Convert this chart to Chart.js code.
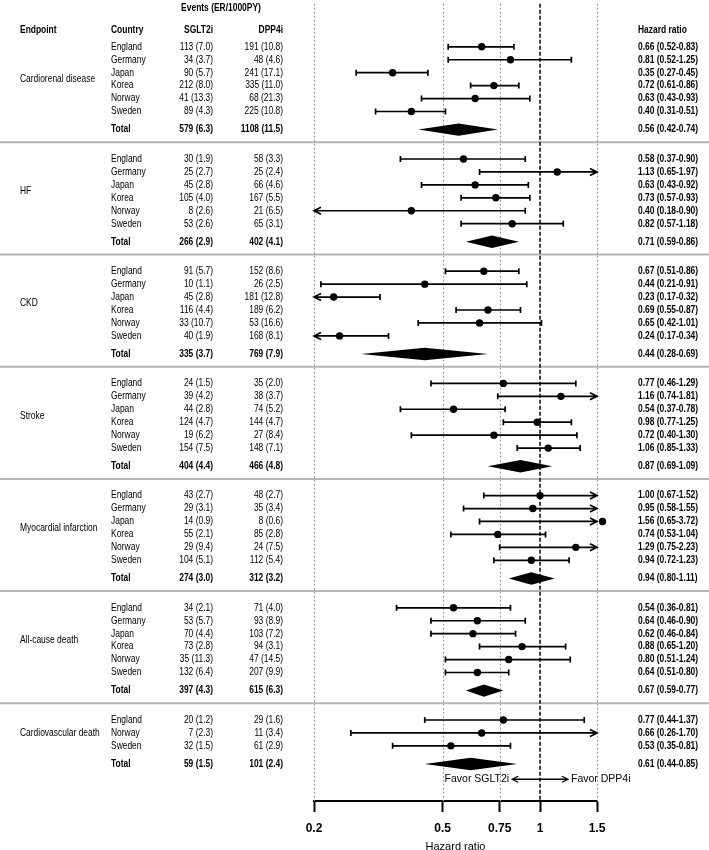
<!DOCTYPE html>
<html>
<head>
<meta charset="utf-8">
<script src="https://cdn.jsdelivr.net/npm/chart.js@4.4.0/dist/chart.umd.min.js"></script>
<style>
  html, body { margin: 0; padding: 0; background: #fff; }
  #wrap { width: 709px; height: 850px; }
</style>
</head>
<body>
<div id="wrap"><canvas id="forest" width="709" height="850"></canvas></div>
<script>
// Data (last entry of each list = Total)
const endpoints = ['Cardiorenal disease', 'HF', 'CKD', 'Stroke', 'Myocardial infarction', 'All-cause death', 'Cardiovascular death'];
const countries = [
  ['England', 'Germany', 'Japan', 'Korea', 'Norway', 'Sweden'],
  ['England', 'Germany', 'Japan', 'Korea', 'Norway', 'Sweden'],
  ['England', 'Germany', 'Japan', 'Korea', 'Norway', 'Sweden'],
  ['England', 'Germany', 'Japan', 'Korea', 'Norway', 'Sweden'],
  ['England', 'Germany', 'Japan', 'Korea', 'Norway', 'Sweden'],
  ['England', 'Germany', 'Japan', 'Korea', 'Norway', 'Sweden'],
  ['England', 'Norway', 'Sweden']
];
const sgltEvents = [
  [113, 34, 90, 212, 41, 89, 579],
  [30, 25, 45, 105, 8, 53, 266],
  [91, 10, 45, 116, 33, 40, 335],
  [24, 39, 44, 124, 19, 154, 404],
  [43, 29, 14, 55, 29, 104, 274],
  [34, 53, 70, 73, 35, 132, 397],
  [20, 7, 32, 59]
];
const sgltRates = [
  [7.0, 3.7, 5.7, 8.0, 13.3, 4.3, 6.3],
  [1.9, 2.7, 2.8, 4.0, 2.6, 2.6, 2.9],
  [5.7, 1.1, 2.8, 4.4, 10.7, 1.9, 3.7],
  [1.5, 4.2, 2.8, 4.7, 6.2, 7.5, 4.4],
  [2.7, 3.1, 0.9, 2.1, 9.4, 5.1, 3.0],
  [2.1, 5.7, 4.4, 2.8, 11.3, 6.4, 4.3],
  [1.2, 2.3, 1.5, 1.5]
];
const dppEvents = [
  [191, 48, 241, 335, 68, 225, 1108],
  [58, 25, 66, 167, 21, 65, 402],
  [152, 26, 181, 189, 53, 168, 769],
  [35, 38, 74, 144, 27, 148, 466],
  [48, 35, 8, 85, 24, 112, 312],
  [71, 93, 103, 94, 47, 207, 615],
  [29, 11, 61, 101]
];
const dppRates = [
  [10.8, 4.6, 17.1, 11.0, 21.3, 10.8, 11.5],
  [3.3, 2.4, 4.6, 5.5, 6.5, 3.1, 4.1],
  [8.6, 2.5, 12.8, 6.2, 16.6, 8.1, 7.9],
  [2.0, 3.7, 5.2, 4.7, 8.4, 7.1, 4.8],
  [2.7, 3.4, 0.6, 2.8, 7.5, 5.4, 3.2],
  [4.0, 8.9, 7.2, 3.1, 14.5, 9.9, 6.3],
  [1.6, 3.4, 2.9, 2.4]
];
const hr = [
  [0.66, 0.81, 0.35, 0.72, 0.63, 0.40, 0.56],
  [0.58, 1.13, 0.63, 0.73, 0.40, 0.82, 0.71],
  [0.67, 0.44, 0.23, 0.69, 0.65, 0.24, 0.44],
  [0.77, 1.16, 0.54, 0.98, 0.72, 1.06, 0.87],
  [1.00, 0.95, 1.56, 0.74, 1.29, 0.94, 0.94],
  [0.54, 0.64, 0.62, 0.88, 0.80, 0.64, 0.67],
  [0.77, 0.66, 0.53, 0.61]
];
const hrLow = [
  [0.52, 0.52, 0.27, 0.61, 0.43, 0.31, 0.42],
  [0.37, 0.65, 0.43, 0.57, 0.18, 0.57, 0.59],
  [0.51, 0.21, 0.17, 0.55, 0.42, 0.17, 0.28],
  [0.46, 0.74, 0.37, 0.77, 0.40, 0.85, 0.69],
  [0.67, 0.58, 0.65, 0.53, 0.75, 0.72, 0.80],
  [0.36, 0.46, 0.46, 0.65, 0.51, 0.51, 0.59],
  [0.44, 0.26, 0.35, 0.44]
];
const hrHigh = [
  [0.83, 1.25, 0.45, 0.86, 0.93, 0.51, 0.74],
  [0.90, 1.97, 0.92, 0.93, 0.90, 1.18, 0.86],
  [0.86, 0.91, 0.32, 0.87, 1.01, 0.34, 0.69],
  [1.29, 1.81, 0.78, 1.25, 1.30, 1.33, 1.09],
  [1.52, 1.55, 3.72, 1.04, 2.23, 1.23, 1.11],
  [0.81, 0.90, 0.84, 1.20, 1.24, 0.80, 0.77],
  [1.37, 1.70, 0.81, 0.85]
];
const tickValues = [0.2, 0.5, 0.75, 1, 1.5];
const tickLabels = ['0.2', '0.5', '0.75', '1', '1.5'];
const refLines = [0.2, 0.5, 0.75, 1.5];
const nullLine = 1;
const favorArrow = [0.82, 1.22];
const favorLabels = ['Favor SGLT2i', 'Favor DPP4i'];

// Row layout (in row units, one row = one country line)
const SECTION_STEP = 8.67;
const TOTAL_GAP = 0.4;
const SEP_GAP = 1.38;
const Y_MIN = -3.33, Y_MAX = 58.28;
const rowOf = (s, i) => s * SECTION_STEP + i;
const totalRowOf = s => s * SECTION_STEP + countries[s].length - 1 + TOTAL_GAP + 1;

const points = [];
countries.forEach((list, s) => {
  list.forEach((c, i) => points.push({ x: hr[s][i], y: rowOf(s, i) }));
});

const FONT = '"Liberation Sans", Arial, sans-serif';
function txt(ctx, s, px, py, align, bold, size, squeeze) {
  ctx.save();
  ctx.translate(px, py);
  ctx.scale(squeeze, 1);
  ctx.font = (bold ? 'bold ' : '') + size + 'px ' + FONT;
  ctx.textAlign = align;
  ctx.textBaseline = 'middle';
  ctx.fillStyle = '#000';
  ctx.fillText(s, 0, 0);
  ctx.restore();
}
const fmtEv = (e, r) => e + ' (' + r.toFixed(1) + ')';
const fmtHr = (s, i) => hr[s][i].toFixed(2) + ' (' + hrLow[s][i].toFixed(2) + '-' + hrHigh[s][i].toFixed(2) + ')';

function drawCI(ctx, x, yp, lo, hi) {
  const x1 = x.getPixelForValue(Math.max(lo, x.min));
  const x2 = x.getPixelForValue(Math.min(hi, x.max));
  ctx.beginPath();
  ctx.moveTo(x1, yp); ctx.lineTo(x2, yp);
  if (lo < x.min) { ctx.moveTo(x1 + 7, yp - 3.5); ctx.lineTo(x1, yp); ctx.lineTo(x1 + 7, yp + 3.5); }
  else { ctx.moveTo(x1, yp - 3); ctx.lineTo(x1, yp + 3); }
  if (hi > x.max) { ctx.moveTo(x2 - 7, yp - 3.5); ctx.lineTo(x2, yp); ctx.lineTo(x2 - 7, yp + 3.5); }
  else { ctx.moveTo(x2, yp - 3); ctx.lineTo(x2, yp + 3); }
  ctx.stroke();
}

const forestPlugin = {
  id: 'forest',
  beforeDatasetsDraw(chart) {
    const { ctx, chartArea, scales: { x, y } } = chart;
    ctx.save();
    // section separators
    ctx.strokeStyle = '#b4b4b4';
    ctx.lineWidth = 2;
    for (let s = 0; s < endpoints.length - 1; s++) {
      const yp = y.getPixelForValue(rowOf(s, countries[s].length) + SEP_GAP);
      ctx.beginPath(); ctx.moveTo(0, yp); ctx.lineTo(chart.width, yp); ctx.stroke();
    }
    // reference lines
    ctx.strokeStyle = '#9a9a9a';
    ctx.lineWidth = 1;
    ctx.setLineDash([2, 2]);
    refLines.forEach(v => {
      const xp = Math.round(x.getPixelForValue(v)) + 0.5;
      ctx.beginPath(); ctx.moveTo(xp, chartArea.top); ctx.lineTo(xp, chartArea.bottom); ctx.stroke();
    });
    ctx.strokeStyle = '#111';
    ctx.lineWidth = 1.6;
    ctx.setLineDash([4, 2]);
    const xn = x.getPixelForValue(nullLine);
    ctx.beginPath(); ctx.moveTo(xn, chartArea.top); ctx.lineTo(xn, chartArea.bottom); ctx.stroke();
    ctx.setLineDash([]);
    // confidence intervals
    ctx.strokeStyle = '#000';
    ctx.lineWidth = 1.7;
    countries.forEach((list, s) => {
      list.forEach((c, i) => drawCI(ctx, x, y.getPixelForValue(rowOf(s, i)), hrLow[s][i], hrHigh[s][i]));
    });
    // pooled diamonds
    ctx.fillStyle = '#000';
    const half = y.getPixelForValue(0.48) - y.getPixelForValue(0);
    endpoints.forEach((e, s) => {
      const n = countries[s].length;
      const yp = y.getPixelForValue(totalRowOf(s));
      const xl = x.getPixelForValue(hrLow[s][n]);
      const xc = x.getPixelForValue(hr[s][n]);
      const xr = x.getPixelForValue(hrHigh[s][n]);
      ctx.beginPath();
      ctx.moveTo(xl, yp); ctx.lineTo(xc, yp - half); ctx.lineTo(xr, yp); ctx.lineTo(xc, yp + half);
      ctx.closePath(); ctx.fill();
    });
    ctx.restore();
  },
  afterDatasetsDraw(chart) {
    const { ctx, scales: { x, y } } = chart;
    // estimates falling outside the axis range are skipped by Chart.js
    ctx.save();
    ctx.fillStyle = '#000';
    points.forEach(p => {
      if (p.x > x.max || p.x < x.min) {
        ctx.beginPath();
        ctx.arc(x.getPixelForValue(p.x), y.getPixelForValue(p.y), 3.7, 0, Math.PI * 2);
        ctx.fill();
      }
    });
    // favour arrow
    const fy = y.getPixelForValue(56.6);
    const a1 = x.getPixelForValue(favorArrow[0]);
    const a2 = x.getPixelForValue(favorArrow[1]);
    ctx.strokeStyle = '#000';
    ctx.lineWidth = 1.3;
    ctx.beginPath();
    ctx.moveTo(a1, fy); ctx.lineTo(a2, fy);
    ctx.moveTo(a1 + 6, fy - 3); ctx.lineTo(a1, fy); ctx.lineTo(a1 + 6, fy + 3);
    ctx.moveTo(a2 - 6, fy - 3); ctx.lineTo(a2, fy); ctx.lineTo(a2 - 6, fy + 3);
    ctx.stroke();
    ctx.restore();
    txt(ctx, favorLabels[0], a1 - 3, fy, 'right', false, 10.5, 1);
    txt(ctx, favorLabels[1], a2 + 3, fy, 'left', false, 10.5, 1);
  },
  afterDraw(chart) {
    const { ctx, scales: { y } } = chart;
    const SQ = 0.82, FS = 10.3;
    const hy = y.getPixelForValue(-1.25);
    txt(ctx, 'Events (ER/1000PY)', 221, y.getPixelForValue(-2.95), 'center', true, FS, SQ);
    txt(ctx, 'Endpoint', 20, hy, 'left', true, FS, SQ);
    txt(ctx, 'Country', 111, hy, 'left', true, FS, SQ);
    txt(ctx, 'SGLT2i', 213, hy, 'right', true, FS, SQ);
    txt(ctx, 'DPP4i', 283, hy, 'right', true, FS, SQ);
    txt(ctx, 'Hazard ratio', 638, hy, 'left', true, FS, SQ);
    endpoints.forEach((e, s) => {
      const n = countries[s].length;
      txt(ctx, e, 20, y.getPixelForValue(rowOf(s, (n - 1) / 2)), 'left', false, FS, SQ);
      countries[s].forEach((c, i) => {
        const yp = y.getPixelForValue(rowOf(s, i));
        txt(ctx, c, 111, yp, 'left', false, FS, SQ);
        txt(ctx, fmtEv(sgltEvents[s][i], sgltRates[s][i]), 213, yp, 'right', false, FS, SQ);
        txt(ctx, fmtEv(dppEvents[s][i], dppRates[s][i]), 283, yp, 'right', false, FS, SQ);
        txt(ctx, fmtHr(s, i), 638, yp, 'left', true, FS, SQ);
      });
      const ty = y.getPixelForValue(totalRowOf(s));
      txt(ctx, 'Total', 111, ty, 'left', true, FS, SQ);
      txt(ctx, fmtEv(sgltEvents[s][n], sgltRates[s][n]), 213, ty, 'right', true, FS, SQ);
      txt(ctx, fmtEv(dppEvents[s][n], dppRates[s][n]), 283, ty, 'right', true, FS, SQ);
      txt(ctx, fmtHr(s, n), 638, ty, 'left', true, FS, SQ);
    });
  }
};

const ctx = document.getElementById('forest').getContext('2d');
new Chart(ctx, {
  type: 'scatter',
  data: {
    datasets: [{
      data: points,
      pointRadius: 3.7,
      pointHoverRadius: 3.7,
      borderWidth: 0,
      backgroundColor: '#000',
      borderColor: '#000',
      clip: false
    }]
  },
  plugins: [forestPlugin],
  options: {
    responsive: false,
    animation: false,
    devicePixelRatio: 1,
    events: [],
    layout: { padding: { left: 314, right: 112, top: 0, bottom: 0 } },
    plugins: { legend: { display: false }, tooltip: { enabled: false } },
    scales: {
      x: {
        type: 'logarithmic',
        position: 'bottom',
        min: 0.2,
        max: 1.5,
        afterBuildTicks: s => { s.ticks = tickValues.map(v => ({ value: v })); },
        afterFit: s => { s.height = 49; },
        ticks: {
          autoSkip: false,
          maxRotation: 0,
          padding: 9,
          color: '#000',
          font: { family: FONT, size: 12, weight: 'bold' },
          callback: (v, i) => tickLabels[i]
        },
        grid: { drawOnChartArea: false, drawTicks: true, tickLength: 11, tickColor: '#000', tickWidth: 2 },
        border: { display: true, color: '#000', width: 2 },
        title: { display: true, text: 'Hazard ratio', color: '#000', font: { family: FONT, size: 11 }, padding: { top: 0, bottom: -4 } }
      },
      y: { type: 'linear', reverse: true, min: Y_MIN, max: Y_MAX, display: false }
    }
  }
});
</script>
</body>
</html>
